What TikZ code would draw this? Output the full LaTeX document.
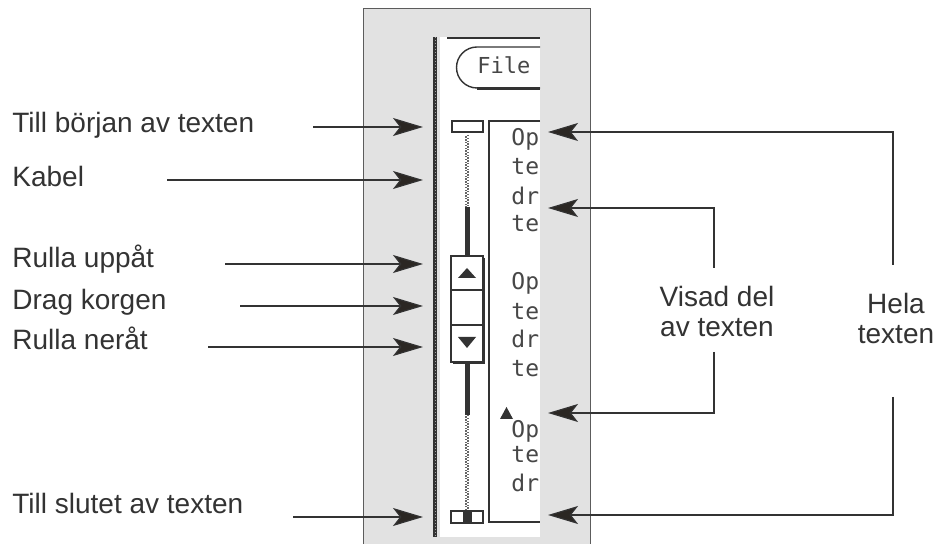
\documentclass[tikz,border=0pt]{standalone}
\usepackage{fontspec}
\setmainfont{Liberation Sans}
\newfontfamily\monofont{DejaVu Sans Mono}
\usetikzlibrary{arrows.meta}
\definecolor{Panel}{HTML}{E2E2E2}
\definecolor{Ink}{HTML}{333333}
\definecolor{Tip}{HTML}{2B2723}

\tikzset{
  lbl/.style={font=\fontsize{14}{15}\selectfont,text=Ink,inner sep=0pt,anchor=base west},
  mono/.style={font=\monofont\fontsize{11.5}{13}\selectfont,text=Ink!90,inner sep=0pt,anchor=base west},
  pointer/.style={draw=Ink,line width=.6pt,-{Stealth[length=15pt,width=9pt,inset=3.5pt,fill=Tip]}},
  chk/.style={line width=.5pt,dash pattern=on .5pt off 1pt},
}

\begin{document}
\begin{tikzpicture}[x=.5pt,y=-.5pt]
    \useasboundingbox (0,0) rectangle (936,544);
    \fill[white] (0,0) rectangle (936,544);
    % grey panel
    \fill[Panel] (363,9) rectangle (590,544);
    \draw[Ink!80,line width=.5pt] (363,544) -- (363,9) -- (590,9) -- (590,544);
    % window
    \fill[white] (440,37) rectangle (540,537);
    \draw[Ink,line width=2.4pt] (435,37) -- (435,537);
    \draw[white!55!Ink,chk] (435,37) -- (435,537);
    \draw[Ink,line width=1.3pt] (447,38) -- (540,38);
    % file tab
    \draw[Ink,line width=.7pt] (540,47) -- (477,47)
      arc[start angle=270,end angle=90,radius=20.5] -- (540,88);
    \draw[Ink,line width=1.4pt] (477,88.5) -- (540,88.5);
    \node[mono,font=\monofont\fontsize{11}{12}\selectfont] (file) at (477,74) {File};
    % scroll bar
    \draw[Ink,line width=.7pt,fill=white] (452,121) rectangle (483,132);
    \foreach \ya/\yb in {135/207,415/510}{
      \draw[Ink!75,line width=2.2pt] (467,\ya) -- (467,\yb);
      \draw[white,chk,line width=.7pt,dash pattern=on .7pt off .7pt] (466,\ya) -- (466,\yb);
      \draw[white,chk,line width=.7pt,dash pattern=on .7pt off .7pt,dash phase=.7pt] (468,\ya) -- (468,\yb);
    }
    \draw[Ink,line width=2.5pt] (467,207) -- (467,256);
    \draw[Ink,line width=2.5pt] (467,362) -- (467,415);
    \draw[Ink,line width=.8pt,fill=white] (451,256) rectangle (483,362);
    \draw[Ink,line width=1.2pt] (484,258) -- (484,363) -- (453,363);
    \draw[Ink,line width=.8pt] (451,290) -- (483,290) (451,325) -- (483,325);
    \fill[Ink] (458,278) -- (467,268) -- (476,278) -- cycle;
    \fill[Ink] (458,337) -- (476,337) -- (467,348) -- cycle;
    \draw[Ink,line width=.7pt,fill=white] (451,511) rectangle (483,523);
    \fill[Ink] (463,511) rectangle (472,523);
    % text area
    \draw[Ink,line width=.7pt] (540,121) -- (489,121) -- (489,522) -- (540,522);
    \begin{scope}
      \clip (489,121) rectangle (540,522);
      \foreach \yy/\txt [count=\i] in {146/Op,175/te,205/dr,232/te,290/Op,320/te,348/dr,377/te,438/Op,463/te,492/dr}
        \node[mono] (row\i) at (511,\yy) {\txt};
    \end{scope}
    \fill[Ink] (500,419) -- (506.5,407) -- (513,419) -- cycle;
    % left labels
    \foreach \yy/\ay/\sx/\txt/\nm in {133/127/313/Till början av texten/first,
        187/180/167/Kabel/cable, 268/264/225/Rulla uppåt/up,
        310/306/240/Drag korgen/drag, 350/347/208/Rulla neråt/down,
        513/517/293/Till slutet av texten/last}{
      \node[lbl] (\nm) at (12,\yy) {\txt};
      \coordinate (\nm S) at (\sx,\ay);
      \coordinate (\nm T) at (423,\ay);
      \draw[pointer] (\nm S) -- (\nm T);
    }
    % right labels
    \node[lbl,anchor=center,align=center] (shown) at (717,311) {Visad del\\av texten};
    \node[lbl,anchor=center,align=center] (whole) at (896,318) {Hela\\texten};
    \coordinate (shownUp) at (714,268);
    \coordinate (shownDn) at (714,352);
    \coordinate (shownTa) at (548,208);
    \coordinate (shownTb) at (548,413);
    \coordinate (wholeUp) at (893,265);
    \coordinate (wholeDn) at (893,397);
    \coordinate (wholeTa) at (548,132);
    \coordinate (wholeTb) at (548,515);
    \draw[pointer] (shownUp) |- (shownTa);
    \draw[pointer] (shownDn) |- (shownTb);
    \draw[pointer] (wholeUp) |- (wholeTa);
    \draw[pointer] (wholeDn) |- (wholeTb);
  \end{tikzpicture}
\end{document}
